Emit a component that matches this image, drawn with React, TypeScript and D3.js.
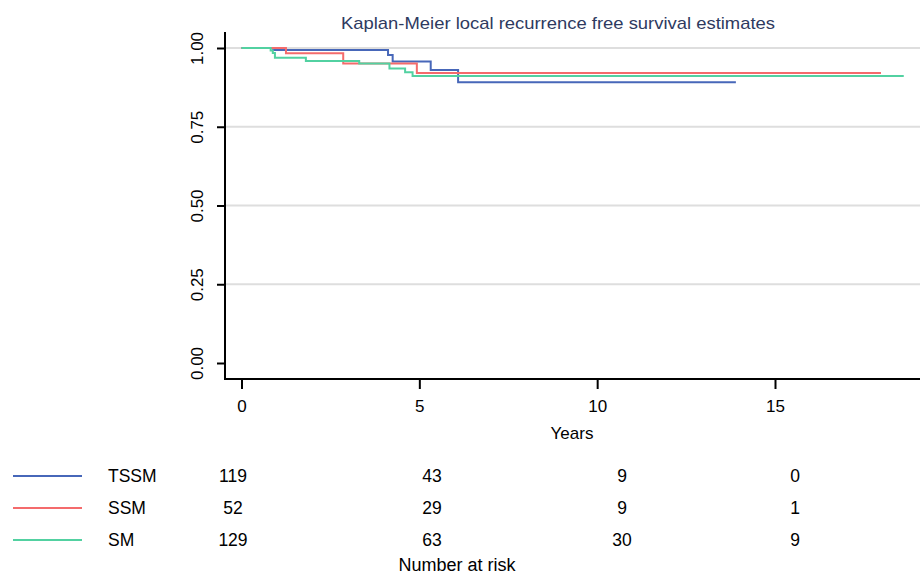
import React, { useEffect, useRef } from "react";
import * as d3 from "d3";

// Kaplan-Meier step data (years, survival)
const groups = ["TSSM", "SSM", "SM"];
const colors = ["#4767b9", "#f46b6c", "#52d1a1"];

const tssmTimes = [0, 0.89, 4.12, 4.25, 5.32, 6.09, 13.9];
const tssmSurv = [1, 0.994, 0.978, 0.957, 0.93, 0.891, 0.891];

const ssmTimes = [0, 1.25, 2.86, 4.93, 17.98];
const ssmSurv = [1, 0.983, 0.951, 0.921, 0.921];

const smTimes = [0, 0.82, 0.88, 0.94, 1.81, 3.31, 4.16, 4.6, 4.81, 18.62];
const smSurv = [1, 0.992, 0.984, 0.969, 0.959, 0.951, 0.935, 0.923, 0.911, 0.911];

const riskTimes = [0, 5, 10, 15];
const riskTSSM = [119, 43, 9, 0];
const riskSSM = [52, 29, 9, 1];
const riskSM = [129, 63, 30, 9];

const xTicks = [0, 5, 10, 15];
const yTicks = [0, 0.25, 0.5, 0.75, 1];

const width = 922;
const height = 576;
const font = "'Liberation Sans', Arial, Helvetica, sans-serif";

const App = () => {
  const xAxisRef = useRef<SVGGElement>(null);
  const yAxisRef = useRef<SVGGElement>(null);

  const plotLeft = 225;
  const plotRight = 920;
  const axisY = 379;

  const x = d3.scaleLinear().domain([0, 15]).range([241.5, 775]);
  const y = d3.scaleLinear().domain([0, 1]).range([363, 48]);
  // columns of the risk table are not evenly spaced in the original
  const riskX = d3.scaleLinear().domain(riskTimes).range([233, 432, 622, 795]);
  const rowY = d3.scalePoint().domain(groups).range([476, 540]);

  const series = [
    { key: "TSSM", times: tssmTimes, surv: tssmSurv, risk: riskTSSM },
    { key: "SSM", times: ssmTimes, surv: ssmSurv, risk: riskSSM },
    { key: "SM", times: smTimes, surv: smSurv, risk: riskSM },
  ];

  const line = d3
    .line<[number, number]>()
    .x((d) => x(d[0]))
    .y((d) => y(d[1]))
    .curve(d3.curveStepAfter);

  useEffect(() => {
    const gx = d3.select(xAxisRef.current);
    gx.call(d3.axisBottom(x).tickValues(xTicks).tickSize(10).tickFormat(d3.format("d")));
    gx.select(".domain").remove();
    gx.selectAll(".tick line").attr("stroke", "#000").attr("stroke-width", 2);
    gx.selectAll(".tick text")
      .attr("y", 33)
      .attr("dy", 0)
      .attr("fill", "#000")
      .style("font-family", font)
      .style("font-size", "17px");

    const gy = d3.select(yAxisRef.current);
    gy.call(d3.axisLeft(y).tickValues(yTicks).tickSize(8).tickFormat(d3.format(".2f")));
    gy.select(".domain").remove();
    gy.selectAll(".tick line").attr("stroke", "#000").attr("stroke-width", 2);
    gy.selectAll(".tick text")
      .attr("transform", "rotate(-90)")
      .attr("x", 0)
      .attr("y", -22)
      .attr("dy", 0)
      .attr("text-anchor", "middle")
      .attr("fill", "#000")
      .style("font-family", font)
      .style("font-size", "17px");
  }, []);

  return (
    <svg
      width={width}
      height={height}
      style={{ position: "absolute", left: 0, top: 0, background: "#fff" }}
    >
      <text
        x={558}
        y={29}
        textAnchor="middle"
        fill="#2e3a5f"
        textLength={434}
        lengthAdjust="spacingAndGlyphs"
        style={{ fontFamily: font, fontSize: "17px" }}
      >
        Kaplan-Meier local recurrence free survival estimates
      </text>

      {yTicks
        .filter((t) => t > 0)
        .map((t) => (
          <line
            key={t}
            x1={plotLeft}
            x2={plotRight}
            y1={y(t)}
            y2={y(t)}
            stroke="#dedede"
            strokeWidth={2}
          />
        ))}

      {series.map((s, i) => (
        <path
          key={s.key}
          d={line(s.times.map((t, j) => [t, s.surv[j]] as [number, number])) || ""}
          fill="none"
          stroke={colors[i]}
          strokeWidth={2}
        />
      ))}

      <line x1={plotLeft} x2={plotLeft} y1={32} y2={axisY + 1} stroke="#000" strokeWidth={2} />
      <line x1={plotLeft} x2={plotRight} y1={axisY} y2={axisY} stroke="#000" strokeWidth={2} />
      <g ref={xAxisRef} transform={`translate(0, ${axisY})`} />
      <g ref={yAxisRef} transform={`translate(${plotLeft}, 0)`} />

      <text
        x={572}
        y={439}
        textAnchor="middle"
        style={{ fontFamily: font, fontSize: "17px" }}
      >
        Years
      </text>

      {series.map((s, i) => (
        <g key={s.key}>
          <line
            x1={13}
            x2={82}
            y1={rowY(s.key)}
            y2={rowY(s.key)}
            stroke={colors[i]}
            strokeWidth={2}
          />
          <text
            x={108}
            y={rowY(s.key)}
            dominantBaseline="central"
            style={{ fontFamily: font, fontSize: "17.5px" }}
          >
            {s.key}
          </text>
          {s.risk.map((n, j) => (
            <text
              key={j}
              x={riskX(riskTimes[j])}
              y={rowY(s.key)}
              textAnchor="middle"
              dominantBaseline="central"
              style={{ fontFamily: font, fontSize: "17.5px" }}
            >
              {n}
            </text>
          ))}
        </g>
      ))}

      <text
        x={457}
        y={571}
        textAnchor="middle"
        style={{ fontFamily: font, fontSize: "18px" }}
      >
        Number at risk
      </text>
    </svg>
  );
};

export default App;
